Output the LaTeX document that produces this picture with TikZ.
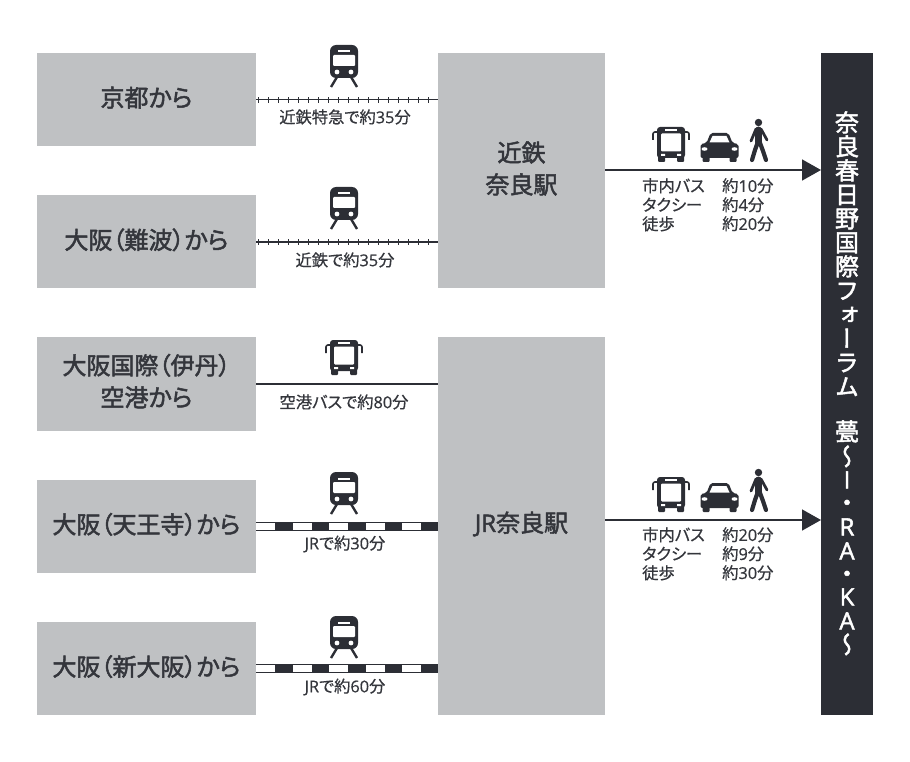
\documentclass[tikz,border=0pt]{standalone}
\usepackage{fontspec}
\usetikzlibrary{positioning,arrows.meta}
\newfontfamily\cjk[RawFeature=+palt,FakeBold=0.6]{Noto Sans CJK JP}
\newfontfamily\cjkbig[RawFeature=+palt,FakeBold=2]{Noto Sans CJK JP}
\newfontfamily\cjkv[RawFeature=+vert,FakeBold=2]{Noto Sans CJK JP}
\newfontfamily\latn[FakeBold=0.6]{Open Sans}
\newfontfamily\latnbig[FakeBold=2]{Open Sans}
\definecolor{ink}{HTML}{2C2E35}
\definecolor{word}{HTML}{34363C}
\definecolor{panel}{HTML}{BFC1C3}
\tikzset{
  placebox/.style={fill=panel, inner sep=0pt, outer sep=0pt, minimum width=219pt, minimum height=93.25pt},
  stationbox/.style={placebox, minimum width=167pt},
  placetext/.style={inner sep=0pt, align=center, text=word, font=\cjkbig\fontsize{24}{32}\selectfont},
  routenote/.style={inner sep=0pt, text=word, font=\cjk\fontsize{16.3}{19}\selectfont},
  modenote/.style={routenote, align=left, anchor=north west},
  titlechar/.style={inner sep=0pt, text=white, text height=20pt, text depth=3pt, font=\cjkv\fontsize{24}{24}\selectfont},
  railline/.style={draw=ink, line width=1.3pt,
    postaction={draw=ink, line width=6pt, dash pattern=on 1pt off 9pt, dash phase=8pt}},
  jrbase/.style={draw=ink, line width=9pt},
  jrwhite/.style={draw=white, line width=6.6pt},
  jrdash/.style={draw=ink, line width=9pt, dash pattern=on 17.5pt off 19pt, dash phase=17.5pt},
  busline/.style={draw=ink, line width=1.6pt},
  goline/.style={draw=ink, line width=1.6pt, -{Triangle[length=19pt,width=21pt]}},
  trainicon/.pic={
    \fill[ink, rounded corners=6pt] (-14,0) rectangle (14,33);
    \fill[white, rounded corners=1pt] (-11,10) rectangle (11,21);
    \fill[white] (-6,5.5) rectangle (6,7.5);
    \fill[white] (-7,27) circle (2.4pt) (7,27) circle (2.4pt);
    \draw[ink, line width=2.4pt] (-7,32) -- (-13,42) (7,32) -- (13,42);
  },
  busicon/.pic={
    \draw[ink, line width=1.6pt, rounded corners=2pt] (-14,5) -- (-18,5) -- (-18,13) (14,5) -- (18,5) -- (18,13);
    \fill[ink, rounded corners=3pt] (-14,0) rectangle (14,31);
    \fill[ink, rounded corners=1pt] (-13,28) rectangle (-6,35) (6,28) rectangle (13,35);
    \fill[white, rounded corners=1pt] (-10,6.5) rectangle (10,24.5);
    \fill[white] (-6,2.2) rectangle (6,4);
    \fill[white] (-10,27) rectangle (-6,29) (6,27) rectangle (10,29);
  },
  caricon/.pic={
    \fill[ink, rounded corners=2pt] (-9,0) -- (9,0) -- (13,10) -- (19,11) -- (19,25) -- (-19,25) -- (-19,11) -- (-13,10) -- cycle;
    \fill[ink, rounded corners=1pt] (-17,22) rectangle (-10,29) (10,22) rectangle (17,29);
    \fill[white] (-7,3) -- (7,3) -- (10,9.5) -- (-10,9.5) -- cycle;
    \fill[white] (-15,16) ellipse (3pt and 1.8pt) (15,16) ellipse (3pt and 1.8pt);
  },
  walkicon/.pic={
    \fill[ink] (-0.5,3.5) circle (3.7pt);
    \draw[ink, line width=7pt, line cap=round] (-0.5,11) -- (-0.5,23);
    \draw[ink, line width=2.8pt, line cap=round, line join=round] (-3,10) -- (-8,22) (2,10) -- (8,21);
    \draw[ink, line width=4.2pt, line cap=round, line join=round] (-1.5,24) -- (-4,31) -- (-7,41) (1,24) -- (4,32) -- (7,41);
  }
}
\begin{document}
\begin{tikzpicture}[x=1pt, y=-1pt]
  \useasboundingbox (0,0) rectangle (910,762);

  % Left column
  \node[placebox] (kyoto) at (146.5,99.6) {};
  \node[placebox, below=49pt of kyoto] (namba) {};
  \node[placebox, below=49pt of namba] (itami) {};
  \node[placebox, below=49pt of itami] (tennoji) {};
  \node[placebox, below=49pt of tennoji] (shinosaka) {};
  \node[placetext] (kyototext) at ([yshift=2pt]kyoto.center) {京都から};
  \node[placetext] (nambatext) at ([yshift=2pt]namba.center) {大阪（難波）から};
  \node[placetext] (itamitext) at ([yshift=3pt]itami.center) {大阪国際（伊丹）\\空港から};
  \node[placetext] (tennojitext) at ([yshift=2pt]tennoji.center) {大阪（天王寺）から};
  \node[placetext] (shinosakatext) at ([yshift=2pt]shinosaka.center) {大阪（新大阪）から};

  % Stations and goal
  \node[stationbox, minimum height=235pt] (kintetsu) at (521.5,170.5) {};
  \node[stationbox, minimum height=378pt] (jrnara) at (521.5,526) {};
  \node[placetext] (kintetsutext) at ([yshift=2pt]kintetsu.center) {近鉄\\奈良駅};
  \node[placetext] (jrnaratext) at ([yshift=2pt]jrnara.center) {{\latnbig JR}奈良駅};
  \node[fill=ink, inner sep=0pt, outer sep=0pt, minimum width=52pt, minimum height=662pt] (forum) at (847,384) {};
  \foreach \ch/\py [count=\i] in {奈/123,良/147,春/171,日/195,野/219,国/243,際/267,フ/291,ォ/315,ー/339,ラ/363,ム/387,
      甍/432,〜/457,{\latnbig I}/480,・/503,{\latnbig R}/527,{\latnbig A}/551,・/574,{\latnbig K}/597,{\latnbig A}/621,〜/645}
    \node[titlechar] (title\i) at (847,\py) {\ch};

  % Routes
  \draw[railline] (kyoto.east) -- (kyoto.east -| kintetsu.west);
  \draw[railline] (namba.east) -- (namba.east -| kintetsu.west);
  \draw[busline] (itami.east) -- (itami.east -| jrnara.west);
  \foreach \st in {tennoji,shinosaka} {
    \draw[jrbase] (\st.east) -- (\st.east -| jrnara.west);
    \draw[jrwhite] (\st.east) -- (\st.east -| jrnara.west);
    \draw[jrdash] (\st.east) -- (\st.east -| jrnara.west);
  }
  \coordinate (kintetsugoal) at (kintetsu.east |- 0,170);
  \coordinate (jrgoal) at (jrnara.east |- 0,520);
  \draw[goline] (kintetsugoal) -- (kintetsugoal -| forum.west);
  \draw[goline] (jrgoal) -- (jrgoal -| forum.west);

  % Icons
  \pic at (344,45) {trainicon};
  \pic at (344,187) {trainicon};
  \pic at (344,340) {busicon};
  \pic at (344,472) {trainicon};
  \pic at (344,616) {trainicon};
  \foreach \dy in {0,350} {
    \pic at (671,127+\dy) {busicon};
    \pic at (719.5,133+\dy) {caricon};
    \pic at (759,119+\dy) {walkicon};
  }

  % Route notes
  \node[routenote] (kyotonote) at (345,117) {近鉄特急で約{\latn 35}分};
  \node[routenote] (nambanote) at (345,260) {近鉄で約{\latn 35}分};
  \node[routenote] (itaminote) at (344,402) {空港バスで約{\latn 80}分};
  \node[routenote] (tennojinote) at (345,544) {{\latn JR}で約{\latn 30}分};
  \node[routenote] (shinosakanote) at (345,687) {{\latn JR}で約{\latn 60}分};

  % Last leg notes
  \node[modenote] (kintetsumode) at (642,178) {市内バス\\タクシー\\徒歩};
  \node[modenote] (kintetsutime) at (722,178) {約{\latn 10}分\\約{\latn 4}分\\約{\latn 20}分};
  \node[modenote] (jrmode) at (642,527) {市内バス\\タクシー\\徒歩};
  \node[modenote] (jrtime) at (722,527) {約{\latn 20}分\\約{\latn 9}分\\約{\latn 30}分};
\end{tikzpicture}
\end{document}
